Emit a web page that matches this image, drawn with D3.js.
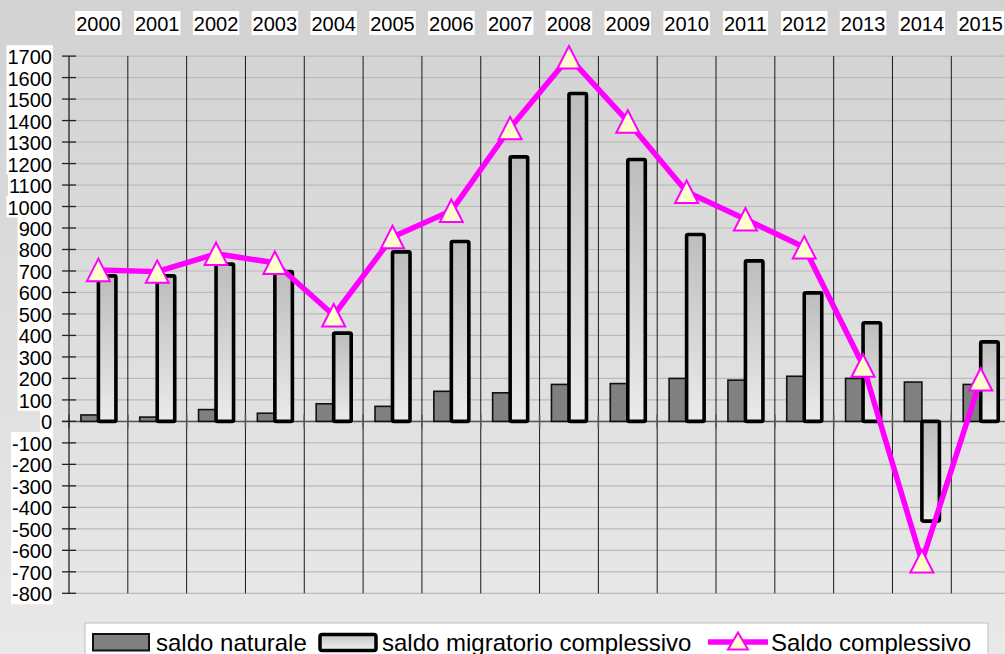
<!DOCTYPE html>
<html>
<head>
<meta charset="utf-8">
<script src="https://cdn.jsdelivr.net/npm/d3@7"></script>
<style>
  html, body { margin: 0; padding: 0; background: #e6e6e6; }
  svg { display: block; font-family: "Liberation Sans", Arial, sans-serif; }
</style>
</head>
<body>
<svg id="chart" width="1005" height="654"></svg>
<script>
// ---- data ----
const years = ["2000","2001","2002","2003","2004","2005","2006","2007","2008","2009","2010","2011","2012","2013","2014","2015"];
const saldoNaturale = [30, 20, 55, 38, 82, 70, 140, 133, 172, 176, 200, 192, 210, 200, 183, 172];
const saldoMigratorio = [677, 677, 732, 697, 411, 789, 837, 1231, 1526, 1219, 870, 747, 598, 459, -464, 370];
const saldoComplessivo = [705, 697, 780, 738, 494, 858, 980, 1365, 1695, 1396, 1069, 941, 810, 260, -651, 196];
const yTicks = [-800,-700,-600,-500,-400,-300,-200,-100,0,100,200,300,400,500,600,700,800,900,1000,1100,1200,1300,1400,1500,1600,1700];
const seriesNames = ["saldo naturale", "saldo migratorio complessivo", "Saldo complessivo"];

const W = 1005, H = 654;
const svg = d3.select("#chart");
const defs = svg.append("defs");

const bg = defs.append("linearGradient").attr("id","bg").attr("x1",0).attr("y1",0).attr("x2",0).attr("y2",1);
bg.append("stop").attr("offset","0%").attr("stop-color","#d2d2d2");
bg.append("stop").attr("offset","100%").attr("stop-color","#e9e9e9");

const barG = defs.append("linearGradient").attr("id","barg").attr("x1",0).attr("y1",0).attr("x2",0).attr("y2",1);
barG.append("stop").attr("offset","0%").attr("stop-color","#bdbdbd");
barG.append("stop").attr("offset","100%").attr("stop-color","#ebebeb");

const legG = defs.append("linearGradient").attr("id","legg").attr("x1",0).attr("y1",0).attr("x2",0).attr("y2",1);
legG.append("stop").attr("offset","0%").attr("stop-color","#c4c4c4");
legG.append("stop").attr("offset","100%").attr("stop-color","#f2f2f2");

svg.append("rect").attr("width",W).attr("height",H).attr("fill","url(#bg)");

// ---- scales ----
const x0 = 69, step = 58.82;
const x = d3.scaleBand().domain(years).range([x0, x0 + step * years.length]).padding(0);
const xs = d3.scaleBand().domain(["nat","mig"]).range([0, x.bandwidth()]).paddingInner(0).paddingOuter(0.68);
const y = d3.scaleLinear().domain([-800, 1700]).range([593.3, 56.1]);
const xRight = W + 10;

// ---- gridlines ----
svg.append("g").selectAll("line").data(yTicks).join("line")
  .attr("x1", x0).attr("x2", xRight)
  .attr("y1", d => y(d)).attr("y2", d => y(d))
  .attr("stroke", "#bababa").attr("stroke-width", 1.2);

// vertical category separators
svg.append("g").selectAll("line").data(years.slice(1)).join("line")
  .attr("x1", d => x(d)).attr("x2", d => x(d))
  .attr("y1", y(1700)).attr("y2", y(-800))
  .attr("stroke", "#1a1a1a").attr("stroke-width", 1);

// zero line
svg.append("line").attr("x1", 62).attr("x2", xRight)
  .attr("y1", y(0)).attr("y2", y(0)).attr("stroke", "#555").attr("stroke-width", 1.5);
svg.append("g").selectAll("line").data(years).join("line")
  .attr("x1", d => x(d)).attr("x2", d => x(d))
  .attr("y1", y(0) - 7).attr("y2", y(0) + 7)
  .attr("stroke", "#555").attr("stroke-width", 1.5);

// ---- bars ----
const gBars = svg.append("g");
gBars.selectAll("rect.nat").data(years).join("rect").attr("class","nat")
  .attr("x", d => x(d) + xs("nat"))
  .attr("width", xs.bandwidth())
  .attr("y", (d,i) => y(Math.max(0, saldoNaturale[i])))
  .attr("height", (d,i) => Math.abs(y(saldoNaturale[i]) - y(0)))
  .attr("fill", "#808080").attr("stroke", "#111").attr("stroke-width", 1.6);

gBars.selectAll("rect.mig").data(years).join("rect").attr("class","mig")
  .attr("x", d => x(d) + xs("mig"))
  .attr("width", xs.bandwidth())
  .attr("y", (d,i) => y(Math.max(0, saldoMigratorio[i])))
  .attr("height", (d,i) => Math.abs(y(saldoMigratorio[i]) - y(0)))
  .attr("rx", 1.5)
  .attr("fill", "url(#barg)").attr("stroke", "#000").attr("stroke-width", 3.6);

// ---- y axis ----
svg.append("line").attr("x1", x0).attr("x2", x0).attr("y1", y(1700)).attr("y2", y(-800))
  .attr("stroke", "#222").attr("stroke-width", 1.3);
svg.append("g").selectAll("line").data(yTicks).join("line")
  .attr("x1", 62).attr("x2", 76).attr("y1", d => y(d)).attr("y2", d => y(d))
  .attr("stroke", "#222").attr("stroke-width", 1.3);

const yLab = svg.append("g").attr("font-size", 20);
yTicks.forEach(v => {
  const t = yLab.append("text").attr("x", 52).attr("y", y(v) + 1).attr("text-anchor","end")
    .attr("dominant-baseline","central").attr("fill","#000").text(String(v));
  const bb = t.node().getBBox();
  yLab.insert("rect", "text").attr("x", bb.x - 1).attr("y", y(v) - 10.9)
    .attr("width", bb.width + 2).attr("height", 21.8).attr("fill", "#fff");
});

// top year labels
const xLab = svg.append("g").attr("font-size", 20);
years.forEach(yr => {
  const cx = x(yr) + x.bandwidth() / 2;
  const t = xLab.append("text").attr("x", cx).attr("y", 30.5).attr("text-anchor","middle")
    .attr("fill","#000").text(yr);
  const bb = t.node().getBBox();
  xLab.insert("rect","text").attr("x", bb.x - 1).attr("y", 11)
    .attr("width", bb.width + 2).attr("height", 24).attr("fill", "#fff");
});

// ---- line + markers ----
const pts = years.map((yr, i) => [x(yr) + x.bandwidth() / 2, y(saldoComplessivo[i])]);
svg.append("path").attr("d", d3.line()(pts)).attr("fill","none")
  .attr("stroke","#ff00ff").attr("stroke-width",5.5).attr("stroke-linejoin","round");

const tri = (cx, cy, w, h) => { const p = d3.path(); p.moveTo(cx, cy - h/2); p.lineTo(cx + w/2, cy + h/2); p.lineTo(cx - w/2, cy + h/2); p.closePath(); return p.toString(); };
svg.append("g").selectAll("path").data(pts).join("path")
  .attr("d", d => tri(d[0], d[1], 23, 22.5))
  .attr("fill","#ffffcc").attr("stroke","#ff00ff").attr("stroke-width",2);

// ---- legend ----
const leg = svg.append("g");
leg.append("rect").attr("x", 85).attr("y", 623).attr("width", 903).attr("height", 40)
  .attr("fill","#fff").attr("stroke","#bdbdbd").attr("stroke-width",1);
leg.append("rect").attr("x", 93).attr("y", 634).attr("width", 56).attr("height", 16.5)
  .attr("fill","#808080").attr("stroke","#111").attr("stroke-width",2);
leg.append("text").attr("x", 156).attr("y", 650.5).attr("font-size", 24).text(seriesNames[0]);
leg.append("rect").attr("x", 320).attr("y", 634.5).attr("width", 56).attr("height", 16)
  .attr("rx", 2).attr("fill","url(#legg)").attr("stroke","#000").attr("stroke-width",3.5);
leg.append("text").attr("x", 382).attr("y", 650.5).attr("font-size", 24).text(seriesNames[1]);
leg.append("line").attr("x1", 708).attr("x2", 768).attr("y1", 642).attr("y2", 642)
  .attr("stroke","#ff00ff").attr("stroke-width",5.5);
leg.append("path").attr("d", tri(738, 641, 20, 17)).attr("fill","#ffffcc").attr("stroke","#ff00ff").attr("stroke-width",2);
leg.append("text").attr("x", 771).attr("y", 650.5).attr("font-size", 24).text(seriesNames[2]);
</script>
</body>
</html>
